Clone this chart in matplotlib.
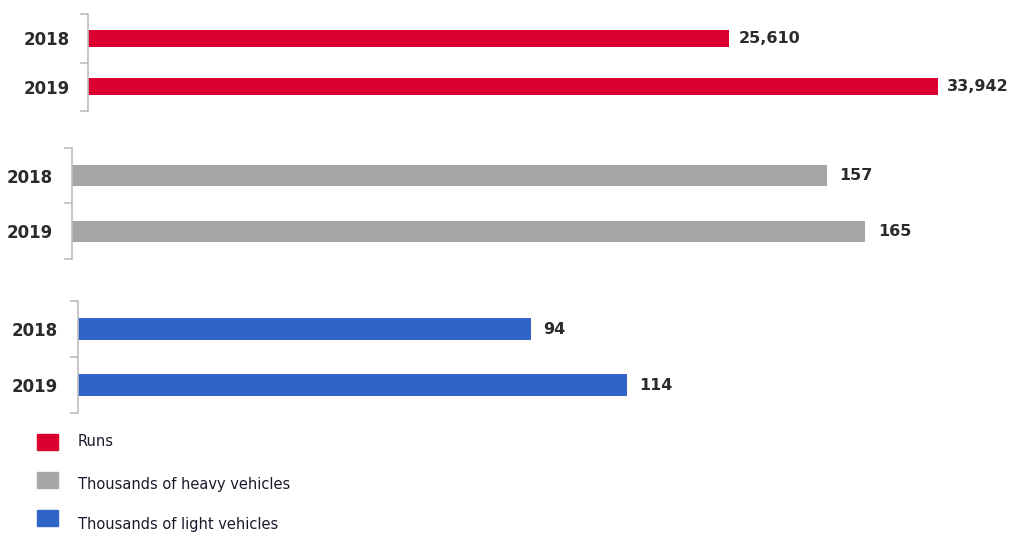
import matplotlib.pyplot as plt
from matplotlib.patches import Rectangle

# yearly figures, one panel per measure
years = ["2018", "2019"]
runs = [25610, 33942]
heavy_vehicles = [157, 165]
light_vehicles = [94, 114]

series_names = ["Runs", "Thousands of heavy vehicles", "Thousands of light vehicles"]
colors = ["#DC0030", "#A6A6A6", "#3164C8"]

W, H = 1015, 536
fig = plt.figure(figsize=(W / 100, H / 100), dpi=100)

text_col = "#2B2B2B"
axis_col = "#BDBDBD"
PX = 0.72  # points per pixel at 100 dpi

# panel layout in pixels: data, colour, left, top, bottom, px per unit, bar height, label pad, value pad
panels = [
    (runs, colors[0], 88, 14, 111, 0.02504, 0.35, 18, 9),
    (heavy_vehicles, colors[1], 72, 148, 259, 4.806, 0.38, 19, 13),
    (light_vehicles, colors[2], 78, 301, 413, 4.816, 0.39, 20, 12),
]

for vals, col, left, top, bottom, scale, bh, pad, vpad in panels:
    right = 1000
    ax = fig.add_axes([left / W, 1 - bottom / H, (right - left) / W, (bottom - top) / H])
    ax.barh(range(len(years)), vals, height=bh, color=col)
    ax.set_xlim(0, (right - left) / scale)
    ax.set_ylim(1.5, -0.5)
    for s in ["top", "right", "bottom"]:
        ax.spines[s].set_visible(False)
    ax.spines["left"].set_color(axis_col)
    ax.spines["left"].set_linewidth(1.2)
    ax.set_xticks([])
    # tick marks on category boundaries, labels in the middle
    ax.set_yticks([-0.5, 0.5, 1.5])
    ax.set_yticklabels([])
    ax.tick_params(axis="y", which="major", length=8 * PX, width=1.2, color=axis_col)
    ax.set_yticks([0, 1], minor=True)
    ax.set_yticklabels(years, minor=True)
    ax.tick_params(axis="y", which="minor", length=0, pad=pad * PX,
                   labelsize=12, labelcolor=text_col)
    for lab in ax.get_yticklabels(minor=True):
        lab.set_fontweight("bold")
    ax.set_facecolor("none")
    for i, v in enumerate(vals):
        ax.annotate(f"{v:,}", (v, i), xytext=(vpad * PX, 0), textcoords="offset points",
                    va="center", ha="left", fontsize=11.5, fontweight="bold", color=text_col)

# legend down the lower left
leg_rows = [(442, 442), (480, 484), (518, 525)]
for (sq_y, tx_y), name, col in zip(leg_rows, series_names, colors):
    fig.patches.append(Rectangle((37 / W, 1 - (sq_y + 8) / H), 21 / W, 16 / H,
                                 transform=fig.transFigure, color=col))
    fig.text(78 / W, 1 - tx_y / H, name, va="center", ha="left", fontsize=10.5,
             color="#1A1A2E")

fig.savefig("out.png", dpi=100)
